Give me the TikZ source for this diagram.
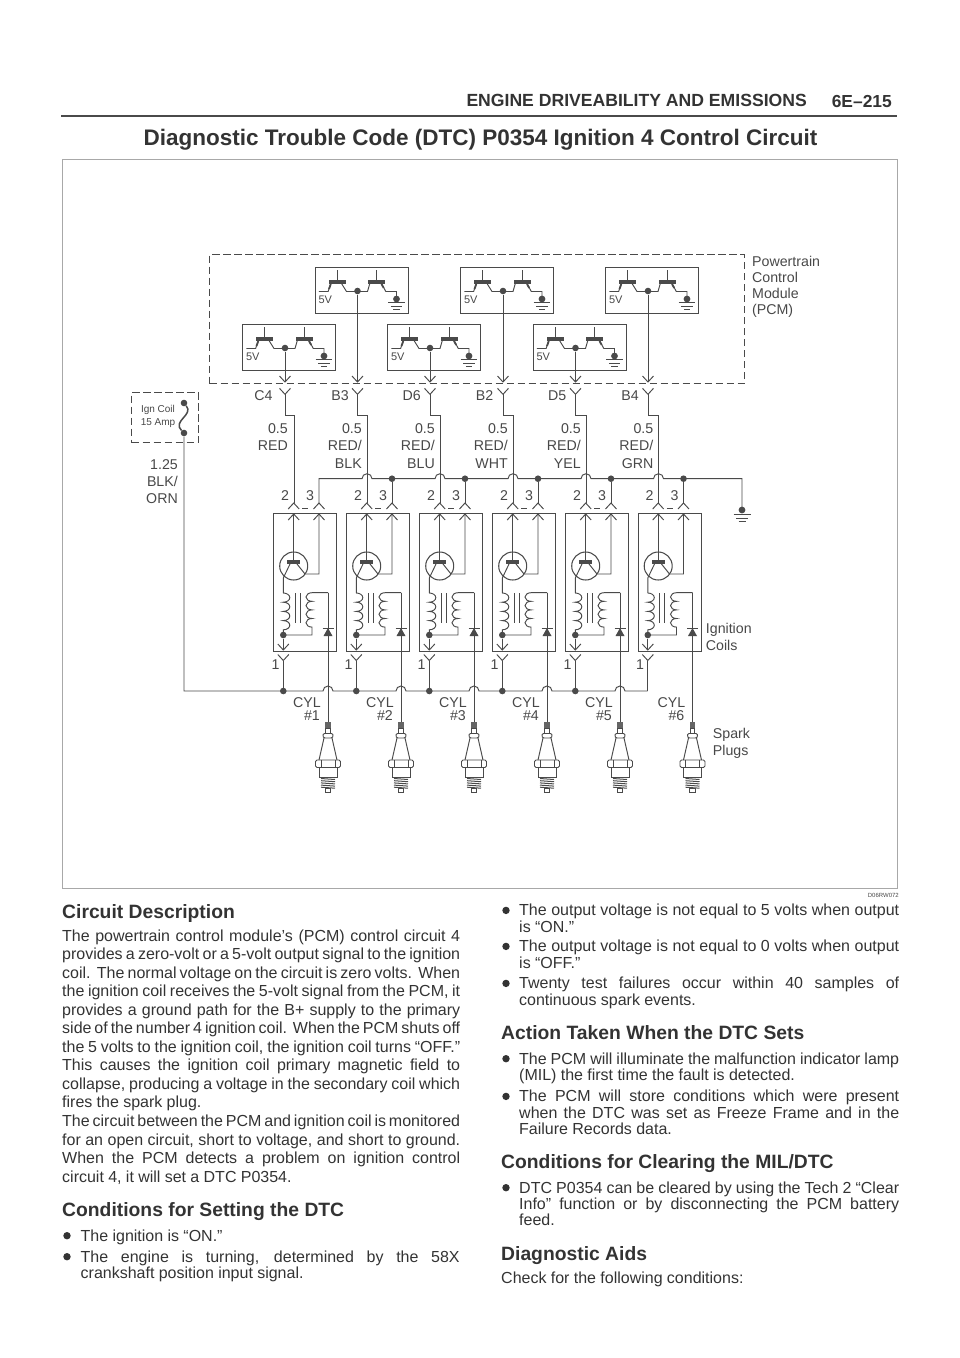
\documentclass[tikz,border=0pt]{standalone}
\usepackage{fontspec}
\setmainfont{Liberation Sans}
\definecolor{wirec}{HTML}{4a4a4a}
\definecolor{txt}{HTML}{333333}
\definecolor{lab}{HTML}{484848}
\definecolor{frame}{HTML}{a8a8a8}
\newcommand\bodyfnt{\fontsize{16}{18.55}\selectfont\spaceskip=.27em plus 1em minus .13em\relax}
\newcommand\listfnt{\fontsize{16}{16.3}\selectfont\spaceskip=.27em plus 1em minus .13em\relax}
\newcommand\labfnt{\fontsize{14.2}{16.3}\selectfont}
\newcommand\chevD[2]{\draw[wire] ({#1-5.5},{-(#2-6)}) -- (#1,-#2) -- ({#1+5.5},{-(#2-6)});}
\newcommand\chevU[2]{\draw[wire] ({#1-5.5},{-(#2+6)}) -- (#1,-#2) -- ({#1+5.5},{-(#2+6)});}
\newcommand\sparkplug[1]{%
\begin{scope}[shift={(#1,-722)}]
 \fill[wirec!85] (-2.8,0) rectangle (2.8,-6);
 \draw[wire] (-2.4,-6) rectangle (2.4,-11);
 \draw[wire,rounded corners=1] (-4,-16) -- (-5.2,-14) -- (-4.5,-11.5) -- (4.5,-11.5) -- (5.2,-14) -- (4,-16) -- cycle;
 \draw[wire] (-4,-16) -- (-9,-38) (4,-16) -- (9,-38);
 \draw[wire,rounded corners=1.5] (-12.5,-38) rectangle (12.5,-45.5);
 \draw[wire] (-7,-38) -- (-7,-45.5) (7,-38) -- (7,-45.5);
 \draw[wire] (-9,-45.5) rectangle (9,-55.5);
 \foreach \t in {56.5,58.7,60.9,63.1,65.2}{\draw[wirec,line width=1pt] (-7,-\t) -- (7,{-\t-1});}
 \draw[wire] (-2.6,-66) rectangle (2.6,-70.5);
\end{scope}}
\tikzset{
 x=1pt,y=1pt,
 wire/.style={draw=wirec,line width=0.95pt},
 dash box/.style={draw=wirec,line width=1.05pt,dash pattern=on 7.5pt off 3.5pt},
 unit box/.style={draw=wirec,line width=1.05pt,anchor=north west,inner sep=0pt,minimum width=93pt,minimum height=45.5pt},
 coil box/.style={draw=wirec,line width=1.05pt,anchor=north west,inner sep=0pt,minimum width=63pt,minimum height=138pt},
 dot/.style={circle,fill=wirec,inner sep=0pt,minimum size=6.6pt},
 bul/.style={circle,fill=txt,inner sep=0pt,minimum size=7.4pt},
 lbl/.style={font=\labfnt,text=lab,inner sep=0pt,anchor=base east},
 lbll/.style={font=\labfnt,text=lab,inner sep=0pt,anchor=base west},
 para/.style={font=\bodyfnt,text=txt,inner sep=0pt,anchor=base west,text width=398pt,align=justify},
 item/.style={font=\listfnt,text=txt,inner sep=0pt,anchor=base west,text width=#1,align=justify},
 item/.default=380pt,
 head/.style={font=\fontsize{19.3}{21}\selectfont\bfseries,text=txt,inner sep=0pt,anchor=base west},
}
\begin{document}
\begin{tikzpicture}
\useasboundingbox (0,0) rectangle (960,-1358);
% header
\node[font=\fontsize{17.6}{19}\selectfont\bfseries,text=txt,inner sep=0pt,anchor=base east] (hdr) at (807,-106) {ENGINE DRIVEABILITY AND EMISSIONS};
\node[font=\fontsize{17.4}{19}\selectfont\bfseries,text=txt,inner sep=0pt,anchor=base east] (pg) at (892,-107.5) {6E–215};
\coordinate (ruleL) at (61,-115.7); \coordinate (ruleR) at (897,-115.7);
\draw[wirec,line width=2pt] (ruleL) -- (ruleR);
\node[font=\fontsize{22.5}{24}\selectfont\bfseries,text=txt,inner sep=0pt,anchor=base] (title) at (480.5,-145.7) {Diagnostic Trouble Code (DTC) P0354 Ignition 4 Control Circuit};
\node[draw=frame,line width=1.1pt,anchor=north west,inner sep=0pt,minimum width=835pt,minimum height=729.5pt] (frm) at (61.7,-158.8) {};
\node[font=\fontsize{6}{7}\selectfont,text=lab,inner sep=0pt,anchor=base east] (fig) at (899,-897.3) {D06RW072};

% PCM
\node[dash box,anchor=north west,inner sep=0pt,minimum width=534.5pt,minimum height=129pt] (pcm) at (209,-254) {};
\foreach \t [count=\k] in {Powertrain,Control,Module,(PCM)}{
 \node[lbll] (pcmt\k) at (752,{-266-16.3*(\k-1)}) {\t};}

% driver units and their wires
\foreach \i/\dx/\top/\wx/\pin/\cx/\col [count=\n] in {
 1/285/324/294/C4/272.7/RED,
 2/357.5/267/367/B3/349/{RED/},
 3/430/324/440/D6/421/{RED/},
 4/503/267/513/B2/493.5/{RED/},
 5/575.5/324/586/D5/566.5/{RED/},
 6/648/267/658.5/B4/639/{RED/}}{
 \pgfmathsetmacro\L{\dx-42.7}
 \pgfmathsetmacro\T{\top}
 \node[unit box] (drv\i) at (\L,-\T) {};
 \draw[wire] ({\L+4},{-\T-24.5}) -- ({\L+13.3},{-\T-24.5}) -- ({\L+16},{-\T-16.5});
 \draw[wire] ({\L+26.7},{-\T-16.5}) -- ({\L+31.7},{-\T-24.5}) -- ({\L+52.7},{-\T-24.5}) -- ({\L+55},{-\T-16.5});
 \draw[wire] ({\L+66.7},{-\T-16.5}) -- ({\L+71},{-\T-24.5}) -- ({\L+81.7},{-\T-24.5}) -- ({\L+81.7},{-\T-32});
 \draw[wirec,line width=1.8pt] ({\L+14.2},{-\T-22}) -- ({\L+16},{-\T-17});
 \draw[wirec,line width=1.8pt] ({\L+66.7},{-\T-17}) -- ({\L+68.9},{-\T-21});
 \fill[wirec] ({\L+14},{-\T-13}) rectangle ({\L+31},{-\T-16.7});
 \fill[wirec] ({\L+53.3},{-\T-13}) rectangle ({\L+70.3},{-\T-16.7});
 \draw[wire] ({\L+22.3},{-\T-3.3}) -- ({\L+22.3},{-\T-13});
 \draw[wire] ({\L+61.7},{-\T-3.3}) -- ({\L+61.7},{-\T-13});
 \node[dot,minimum size=6.8pt] (gnd\i) at ({\L+81.7},{-\T-32}) {};
 \draw[wire] ({\L+73.3},{-\T-35.5}) -- ({\L+90},{-\T-35.5});
 \draw[wire] ({\L+76},{-\T-39}) -- ({\L+87.4},{-\T-39});
 \draw[wire] ({\L+78.5},{-\T-42.3}) -- ({\L+85},{-\T-42.3});
 \node[font=\fontsize{11}{12}\selectfont,text=lab,inner sep=0pt,anchor=base west] (v\i) at ({\L+3.5},{-\T-36}) {5V};
 % output
 \node[dot] (out\i) at (\dx,{-\T-24}) {};
 \coordinate (tip\i) at (\dx,-382);
 \coordinate (ytop\i) at (\dx,-394.3);
 \coordinate (cin\i) at (\wx,-503);
 \draw[wire] (out\i) -- (tip\i);
 \chevD{\dx}{382}
 \chevD{\dx}{394.3}
 \draw[wire] (ytop\i) -- (\dx,-415) -- (\wx,-415) -- (cin\i);
 \node[lbl] (pin\i) at (\cx,-400) {\pin};
 \node[lbl] (sz\i) at ({\wx-(\n==1?6:5)},-433) {0.5};
 \node[lbl] (col\i) at ({\wx-(\n==1?6:5)},-450) {\col};
}
\foreach \i/\wx/\c in {2/367/BLK,3/440/BLU,4/513/WHT,5/586/YEL,6/658.5/GRN}{
 \node[lbl] (colb\i) at ({\wx-5},-468) {\c};}

% ground bus
\coordinate (gbusL) at (319,-478.7);
\coordinate (gbusR) at (742,-478.7);
\coordinate (gndT) at (742,-510);
\draw[wire] (319,-503) -- (gbusL)
 -- (362,-478.7) arc[start angle=180,end angle=0,radius=5]
 -- (435,-478.7) arc[start angle=180,end angle=0,radius=5]
 -- (508,-478.7) arc[start angle=180,end angle=0,radius=5]
 -- (581,-478.7) arc[start angle=180,end angle=0,radius=5]
 -- (653.5,-478.7) arc[start angle=180,end angle=0,radius=5]
 -- (gbusR) -- (gndT);
\node[dot,minimum size=6.8pt] (gmain) at (gndT) {};
\draw[wire] (733.5,-514.5) -- (750.5,-514.5);
\draw[wire] (736,-518) -- (748,-518);
\draw[wire] (738.5,-521.5) -- (745.5,-521.5);

% fuse
\node[dash box,anchor=north west,inner sep=0pt,minimum width=67pt,minimum height=50pt] (fuse) at (131,-392) {};
\node[font=\fontsize{10}{13.7}\selectfont,text=lab,inner sep=0pt,anchor=base] (fa) at (158,-412) {Ign Coil};
\node[font=\fontsize{10}{13.7}\selectfont,text=lab,inner sep=0pt,anchor=base] (fb) at (158,-425.7) {15 Amp};
\node[dot] (f1) at (184,-403) {};
\node[dot] (f2) at (184,-433) {};
\draw[wirec,line width=1.5pt] (f1) .. controls (194,-415) and (172,-421) .. (f2);
\coordinate (busL) at (184,-691);
\coordinate (busR) at (647.5,-691);
\draw[wire] (f2) -- (busL)
 -- (323,-691) arc[start angle=180,end angle=0,radius=5]
 -- (396,-691) arc[start angle=180,end angle=0,radius=5]
 -- (469,-691) arc[start angle=180,end angle=0,radius=5]
 -- (542,-691) arc[start angle=180,end angle=0,radius=5]
 -- (615,-691) arc[start angle=180,end angle=0,radius=5]
 -- (busR);
\node[lbl] (b1) at (178,-469) {1.25};
\node[lbl] (b2) at (178,-486) {BLK/};
\node[lbl] (b3) at (178,-503) {ORN};

% coils
\foreach \i/\L [count=\n] in {1/273,2/346,3/419,4/492,5/565,6/637.5}{
 \node[coil box] (coil\i) at (\L,-513) {};
 \pgfmathsetmacro\a{\L+20.7}
 \pgfmathsetmacro\b{\L+46}
 \pgfmathsetmacro\p{\L+10.3}
 \pgfmathsetmacro\s{\L+39}
 \pgfmathsetmacro\d{\L+55}
 % pins
 \chevU{\a}{503}\chevU{\b}{503}
 \chevU{\a}{514}\chevU{\b}{514}
 \draw[wire] ({\L+29},-508.5) -- ({\L+35},-508.5);
 \node[lbl,anchor=base] (p2\i) at ({\L+12},-500.5) {2};
 \node[lbl,anchor=base] (p3\i) at ({\L+37},-500.5) {3};
 \node[lbl,anchor=base] (p1\i) at ({\L+2.5},-669) {1};
 % transistor
 \node[draw=wirec,line width=1.05pt,circle,inner sep=0pt,minimum size=28pt] (q\i) at (\a,-566) {};
 \fill[wirec] ({\L+14},-560) rectangle ({\L+27.2},-564);
 \draw[wire] (\a,-514) -- (\a,-560);
 \draw[wire] ({\L+17},-564) -- (\p,-578) -- (\p,-593);
 \draw[wire] ({\L+24},-564) -- ({\L+32},-574) -- (\b,-574) -- (\b,-514);
 % primary
 \draw[wire] (\p,-593) arc[start angle=90,end angle=-90,x radius=6.5,y radius=4.6]
   arc[start angle=90,end angle=-90,x radius=6.5,y radius=4.6]
   arc[start angle=90,end angle=-90,x radius=6.5,y radius=4.6]
   arc[start angle=90,end angle=-90,x radius=6.5,y radius=4.6]
   -- (\p,-635);
 % core
 \draw[wire] ({\L+22},-593) -- ({\L+22},-623);
 \draw[wire] ({\L+27},-593) -- ({\L+27},-623);
 % secondary
 \draw[wire] (\d,-592.7) -- (\s,-592.7) arc[start angle=90,end angle=270,x radius=6,y radius=4.3]
   arc[start angle=90,end angle=270,x radius=6,y radius=4.3]
   arc[start angle=90,end angle=270,x radius=6,y radius=4.3]
   arc[start angle=90,end angle=270,x radius=6,y radius=4.3]
   -- (\s,-635) -- (\p,-635);
 \node[dot] (cd\i) at (\p,-635) {};
 % diode
 \draw[wire] (\d,-592.7) -- (\d,-722);
 \fill[wirec] (\d,-628) -- ({\d-4.5},-636) -- ({\d+4.5},-636) -- cycle;
 \draw[wire] ({\d-5.5},-628) -- ({\d+5.5},-628);
 % output
 \coordinate (ctip\i) at (\p,-650);
 \coordinate (cy\i) at (\p,-660.5);
 \draw[wire] (cd\i) -- (ctip\i);
 \chevD{\p}{650}
 \chevD{\p}{660.5}
 \draw[wire] (cy\i) -- (\p,-691);
 \ifnum\n<6 \node[dot] (bd\i) at (\p,-691) {}; \fi
 % 3-pin take off
 \ifnum\n>1 \node[dot] (td\i) at (\b,-478.7) {}; \draw[wire] (td\i) -- (\b,-503); \fi
 % spark plugs
 \sparkplug{\d}
 \node[lbl] (cy\i a) at ({\d-7},-707.7) {CYL};
 \node[lbl] (cy\i b) at ({\d-8},-720) {\#\i};
}
\node[lbll] (ig1) at (705.7,-633) {Ignition};
\node[lbll] (ig2) at (705.7,-650) {Coils};
\node[lbll] (sp1) at (712.7,-738) {Spark};
\node[lbll] (sp2) at (712.7,-755) {Plugs};

% left column
\node[head] (h1) at (62,-918) {Circuit Description};
\node[para] (p1) at (62,-941) {The powertrain control module’s (PCM) control circuit 4\linebreak
provides a zero-volt or a 5-volt output signal to the ignition\linebreak
coil.\ \ The normal voltage on the circuit is zero volts.\ \ When\linebreak
the ignition coil receives the 5-volt signal from the PCM, it\linebreak
provides a ground path for the B+ supply to the primary\linebreak
side of the number 4 ignition coil.\ \ When the PCM shuts off\linebreak
the 5 volts to the ignition coil, the ignition coil turns “OFF.”\linebreak
This causes the ignition coil primary magnetic field to\linebreak
collapse, producing a voltage in the secondary coil which\linebreak
fires the spark plug.\\
The circuit between the PCM and ignition coil is monitored\linebreak
for an open circuit, short to voltage, and short to ground.\linebreak
When the PCM detects a problem on ignition control\linebreak
circuit 4, it will set a DTC P0354.};
\node[head] (h2) at (62,-1216) {Conditions for Setting the DTC};
\node[bul] (b21) at (67,-1235.7) {};
\node[item=379pt] (t21) at (80.5,-1241) {The ignition is “ON.”};
\node[bul] (b22) at (67,-1256.7) {};
\node[item=379pt] (t22) at (80.5,-1262) {The engine is turning, determined by the 58X\linebreak crankshaft position input signal.};

% right column
\node[bul] (r1) at (506,-910.4) {};
\node[item] (tr1) at (519,-915.7) {The output voltage is not equal to 5 volts when output\linebreak is “ON.”};
\node[bul] (r2) at (506,-946.4) {};
\node[item] (tr2) at (519,-951.7) {The output voltage is not equal to 0 volts when output\linebreak is “OFF.”};
\node[bul] (r3) at (506,-983.4) {};
\node[item] (tr3) at (519,-988.7) {Twenty test failures occur within 40 samples of\linebreak continuous spark events.};
\node[head] (h3) at (501,-1039) {Action Taken When the DTC Sets};
\node[bul] (r4) at (506,-1058.7) {};
\node[item] (tr4) at (519,-1064) {The PCM will illuminate the malfunction indicator lamp\linebreak (MIL) the first time the fault is detected.};
\node[bul] (r5) at (506,-1096.4) {};
\node[item] (tr5) at (519,-1101.7) {The PCM will store conditions which were present\linebreak when the DTC was set as Freeze Frame and in the\linebreak Failure Records data.};
\node[head] (h4) at (501,-1168) {Conditions for Clearing the MIL/DTC};
\node[bul] (r6) at (506,-1187.7) {};
\node[item] (tr6) at (519,-1193) {DTC P0354 can be cleared by using the Tech 2 “Clear\linebreak Info” function or by disconnecting the PCM battery\linebreak feed.};
\node[head] (h5) at (501,-1260) {Diagnostic Aids};
\node[para,text width=380pt] (p5) at (501,-1283) {Check for the following conditions:};
\end{tikzpicture}
\end{document}
